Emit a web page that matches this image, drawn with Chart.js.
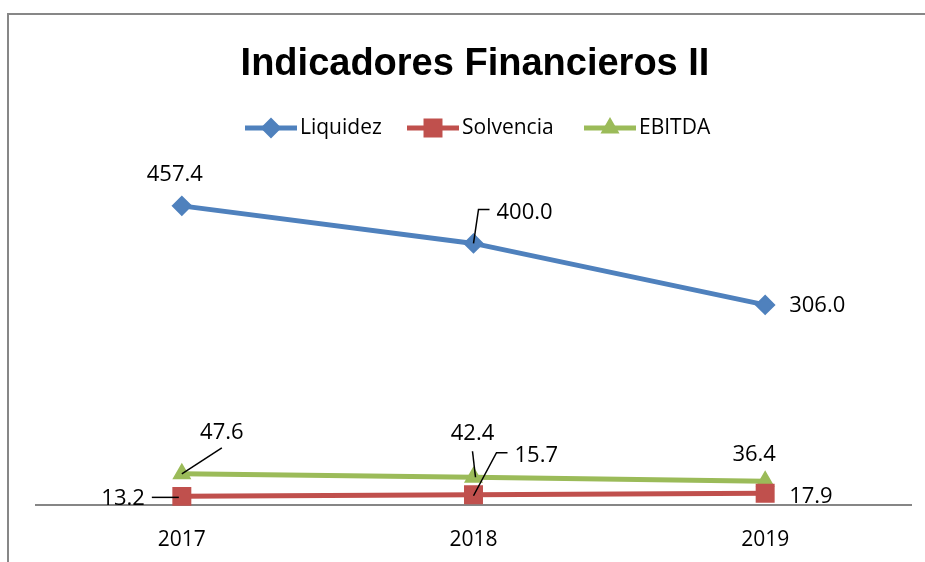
<!DOCTYPE html>
<html>
<head>
<meta charset="utf-8">
<script src="https://cdn.jsdelivr.net/npm/chart.js@4.4.1/dist/chart.umd.min.js"></script>
<style>
    html, body { margin: 0; padding: 0; background: #fff; overflow: hidden; }
    #frame { position: absolute; left: 7px; top: 13px; width: 1000px; height: 600px;
             border-left: 2px solid #878787; border-top: 2px solid #878787; }
    #wrap { position: absolute; left: 0; top: 0; width: 925px; height: 562px; }
</style>
</head>
<body>
<div id="frame"></div>
<div id="wrap"><canvas id="chart" width="925" height="562"></canvas></div>
<script>
// data
const years = ["2017", "2018", "2019"];
const liquidez = [457.4, 400.0, 306.0];
const solvencia = [13.2, 15.7, 17.9];
const ebitda = [47.6, 42.4, 36.4];
const seriesNames = ["Liquidez", "Solvencia", "EBITDA"];
const chartTitle = "Indicadores Financieros II";

const colors = ["#4F81BD", "#C0504D", "#9BBB59"];
const labelFont = '22px "Open Sans"';

// where each data label sits, relative to its point (dx, dy), plus optional leader line
const labelPlacement = [
    [ // Liquidez
        { dx: -7, dy: -31, align: "center" },
        { dx: 23, dy: -31, align: "left", leader: [[0, 0], [5, -34], [16, -34]] },
        { dx: 24, dy: 1, align: "left" }
    ],
    [ // Solvencia
        { dx: -37, dy: 2, align: "right", leader: [[-30, 1], [-3, 1]] },
        { dx: 41, dy: -39, align: "left", leader: [[0, 1], [23, -42], [34, -42]] },
        { dx: 24, dy: 3, align: "left" }
    ],
    [ // EBITDA
        { dx: 40, dy: -41, align: "center", leader: [[0, 0], [40, -26]] },
        { dx: -1, dy: -44, align: "center", leader: [[2, 0], [-1, -26]] },
        { dx: -11, dy: -26, align: "center" }
    ]
];

// legend line start x for each entry
const legendX = [245, 407, 584];
const legendY = 128;

const pointStyles = ["rectRot", "rect", "triangle"];
const pointSizes = [9, 12, 9];

const chartDecor = {
    id: "chartDecor",
    afterDraw(chart) {
        const ctx = chart.ctx;
        ctx.save();

        // title
        ctx.fillStyle = "#000";
        ctx.font = 'bold 38px "Liberation Sans"';
        ctx.textAlign = "center";
        ctx.textBaseline = "alphabetic";
        ctx.fillText(chartTitle, 475, 75);

        // legend
        ctx.font = '21px "Open Sans"';
        ctx.textAlign = "left";
        ctx.textBaseline = "middle";
        seriesNames.forEach((name, i) => {
            let x0 = legendX[i];
            ctx.strokeStyle = colors[i];
            ctx.lineWidth = 5;
            ctx.beginPath();
            ctx.moveTo(x0, legendY);
            ctx.lineTo(x0 + 52, legendY);
            ctx.stroke();
            ctx.fillStyle = colors[i];
            ctx.lineWidth = 2;
            Chart.helpers.drawPoint(ctx, { pointStyle: pointStyles[i], radius: pointSizes[i], borderWidth: 2, rotation: 0 }, x0 + 26, legendY);
            ctx.fillStyle = "#000";
            ctx.fillText(name, x0 + 55, legendY);
        });

        // data labels
        ctx.font = labelFont;
        ctx.textBaseline = "middle";
        chart.data.datasets.forEach((ds, di) => {
            let meta = chart.getDatasetMeta(di);
            meta.data.forEach((pt, i) => {
                let p = labelPlacement[di][i];
                if (p.leader) {
                    ctx.strokeStyle = "#000";
                    ctx.lineWidth = 1.5;
                    ctx.beginPath();
                    p.leader.forEach((q, k) => {
                        if (k === 0) ctx.moveTo(pt.x + q[0], pt.y + q[1]);
                        else ctx.lineTo(pt.x + q[0], pt.y + q[1]);
                    });
                    ctx.stroke();
                }
                ctx.fillStyle = "#000";
                ctx.textAlign = p.align;
                ctx.fillText(ds.data[i].toFixed(1), pt.x + p.dx, pt.y + p.dy);
            });
        });

        ctx.restore();
    }
};

function makeSeries(name, values, i) {
    return {
        label: name,
        data: values,
        borderColor: colors[i],
        backgroundColor: colors[i],
        borderWidth: 5,
        pointStyle: pointStyles[i],
        pointRadius: pointSizes[i],
        pointHoverRadius: pointSizes[i],
        pointBorderWidth: 2,
        pointBackgroundColor: colors[i],
        pointBorderColor: colors[i],
        tension: 0,
        clip: false
    };
}

new Chart(document.getElementById("chart"), {
    type: "line",
    data: {
        labels: years,
        datasets: [
            makeSeries(seriesNames[0], liquidez, 0),
            makeSeries(seriesNames[1], solvencia, 1),
            makeSeries(seriesNames[2], ebitda, 2)
        ]
    },
    options: {
        responsive: false,
        animation: false,
        layout: { padding: { left: 36, right: 13, top: 178, bottom: 0 } },
        plugins: {
            legend: { display: false },
            title: { display: false },
            tooltip: { enabled: false }
        },
        scales: {
            x: {
                offset: true,
                grid: { display: false, drawTicks: false },
                border: { display: true, color: "#868686", width: 2 },
                ticks: { color: "#000", font: { family: "Open Sans", size: 21 }, padding: 22 },
                afterFit(scale) { scale.height = 57; }
            },
            y: {
                display: false,
                min: 0,
                max: 500
            }
        }
    },
    plugins: [chartDecor]
});
</script>
</body>
</html>
